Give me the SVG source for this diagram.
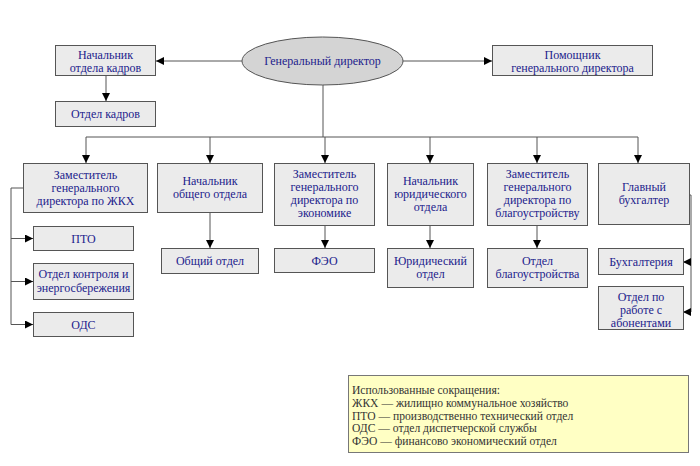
<svg xmlns="http://www.w3.org/2000/svg" width="700" height="466" viewBox="0 0 700 466">
<style>
.box{fill:#ebebeb;stroke:#555;stroke-width:1}
.ell{fill:#d4d4d4;stroke:#555;stroke-width:1}
.t{font-family:"Liberation Serif","Times New Roman",serif;font-size:12px;fill:#22228c;text-anchor:middle}
.lg{font-family:"Liberation Serif","Times New Roman",serif;font-size:11.6px;fill:#333;text-anchor:start}
.c{fill:none;stroke:#555;stroke-width:1}
.legend{fill:#ffffc4;stroke:#777;stroke-width:1}
</style>
<defs>
<marker id="ah" viewBox="0 0 10 10" refX="10" refY="5" markerWidth="9" markerHeight="8" markerUnits="userSpaceOnUse" orient="auto">
<path d="M0,0 L10,5 L0,10 z" fill="#000"/>
</marker>
</defs>
<rect width="700" height="466" fill="#fff"/>
<g id="connectors">
<path class="c" d="M242,61 H156" marker-end="url(#ah)"/>
<path class="c" d="M403,61 H492" marker-end="url(#ah)"/>
<path class="c" d="M106,76 V101" marker-end="url(#ah)"/>
<path class="c" d="M323,85 V137"/>
<path class="c" d="M86,137 H638"/>
<path class="c" d="M86,137 V163" marker-end="url(#ah)"/>
<path class="c" d="M210,137 V163" marker-end="url(#ah)"/>
<path class="c" d="M325,137 V163" marker-end="url(#ah)"/>
<path class="c" d="M430,137 V163" marker-end="url(#ah)"/>
<path class="c" d="M537,137 V163" marker-end="url(#ah)"/>
<path class="c" d="M638,137 V163" marker-end="url(#ah)"/>
<path class="c" d="M210,213 V248" marker-end="url(#ah)"/>
<path class="c" d="M325,226 V248" marker-end="url(#ah)"/>
<path class="c" d="M430,226 V248" marker-end="url(#ah)"/>
<path class="c" d="M537,226 V248" marker-end="url(#ah)"/>
<path class="c" d="M23,188 H11 V324.5"/>
<path class="c" d="M11,238.5 H33" marker-end="url(#ah)"/>
<path class="c" d="M11,281.5 H33" marker-end="url(#ah)"/>
<path class="c" d="M11,324.5 H33" marker-end="url(#ah)"/>
<path class="c" d="M689,195 H691 V312"/>
<path class="c" d="M691,262 H683" marker-end="url(#ah)"/>
<path class="c" d="M691,312 H683" marker-end="url(#ah)"/>
</g>
<g id="ceo">
<ellipse class="ell" cx="322.5" cy="61" rx="80.5" ry="24"/>
<text class="t" x="322.5" y="65">Генеральный директор</text>
</g>
<g id="hr_head">
<rect class="box" x="55.5" y="45.5" width="100" height="30"/>
<text class="t" x="105.5" y="59">Начальник</text>
<text class="t" x="105.5" y="72">отдела кадров</text>
</g>
<g id="hr_dept">
<rect class="box" x="55.5" y="101.5" width="100" height="25"/>
<text class="t" x="105.5" y="118">Отдел кадров</text>
</g>
<g id="assistant">
<rect class="box" x="492.5" y="45.5" width="160" height="30"/>
<text class="t" x="572.5" y="59">Помощник</text>
<text class="t" x="572.5" y="72">генерального директора</text>
</g>
<g id="dep_zkh">
<rect class="box" x="23.5" y="163.5" width="124" height="49"/>
<text class="t" x="85.5" y="179">Заместитель</text>
<text class="t" x="85.5" y="192">генерального</text>
<text class="t" x="85.5" y="205">директора по ЖКХ</text>
</g>
<g id="pto">
<rect class="box" x="33.5" y="226.5" width="100" height="24"/>
<text class="t" x="83.5" y="242.5">ПТО</text>
</g>
<g id="control">
<rect class="box" x="33.5" y="263.5" width="100" height="36"/>
<text class="t" x="83.5" y="278">Отдел контроля и</text>
<text class="t" x="83.5" y="292">энергосбережения</text>
</g>
<g id="ods">
<rect class="box" x="33.5" y="312.5" width="100" height="24"/>
<text class="t" x="83.5" y="328.5">ОДС</text>
</g>
<g id="general_head">
<rect class="box" x="157.5" y="163.5" width="105" height="49"/>
<text class="t" x="210" y="185">Начальник</text>
<text class="t" x="210" y="198">общего отдела</text>
</g>
<g id="general_dept">
<rect class="box" x="161.5" y="248.5" width="97" height="25"/>
<text class="t" x="210" y="265">Общий отдел</text>
</g>
<g id="dep_econ">
<rect class="box" x="274.5" y="163.5" width="100" height="62"/>
<text class="t" x="324.5" y="178">Заместитель</text>
<text class="t" x="324.5" y="191">генерального</text>
<text class="t" x="324.5" y="204">директора по</text>
<text class="t" x="324.5" y="217">экономике</text>
</g>
<g id="feo">
<rect class="box" x="274.5" y="248.5" width="100" height="24"/>
<text class="t" x="324.5" y="264.5">ФЭО</text>
</g>
<g id="legal_head">
<rect class="box" x="387.5" y="163.5" width="86" height="62"/>
<text class="t" x="430.5" y="185">Начальник</text>
<text class="t" x="430.5" y="198">юридического</text>
<text class="t" x="430.5" y="211">отдела</text>
</g>
<g id="legal_dept">
<rect class="box" x="387.5" y="248.5" width="86" height="39"/>
<text class="t" x="430.5" y="265">Юридический</text>
<text class="t" x="430.5" y="278">отдел</text>
</g>
<g id="dep_bl">
<rect class="box" x="487.5" y="163.5" width="100" height="62"/>
<text class="t" x="537.5" y="178">Заместитель</text>
<text class="t" x="537.5" y="191">генерального</text>
<text class="t" x="537.5" y="204">директора по</text>
<text class="t" x="537.5" y="217">благоустройству</text>
</g>
<g id="bl_dept">
<rect class="box" x="487.5" y="248.5" width="100" height="39"/>
<text class="t" x="537.5" y="265">Отдел</text>
<text class="t" x="537.5" y="278">благоустройства</text>
</g>
<g id="chief_acc">
<rect class="box" x="598.5" y="163.5" width="91" height="61"/>
<text class="t" x="644" y="191">Главный</text>
<text class="t" x="644" y="204">бухгалтер</text>
</g>
<g id="accounting">
<rect class="box" x="598.5" y="248.5" width="85" height="26"/>
<text class="t" x="641" y="266">Бухгалтерия</text>
</g>
<g id="subscribers">
<rect class="box" x="598.5" y="286.5" width="85" height="43"/>
<text class="t" x="641" y="301">Отдел по</text>
<text class="t" x="641" y="314">работе с</text>
<text class="t" x="641" y="327">абонентами</text>
</g>
<g id="legend">
<rect class="legend" x="348.5" y="375.5" width="340" height="77"/>
<text class="lg" x="352" y="394">Использованные сокращения:</text>
<text class="lg" x="352" y="406.8">ЖКХ — жилищно коммунальное хозяйство</text>
<text class="lg" x="352" y="419.6">ПТО — производственно технический отдел</text>
<text class="lg" x="352" y="432.4">ОДС — отдел диспетчерской службы</text>
<text class="lg" x="352" y="445.2">ФЭО — финансово экономический отдел</text>
</g>
</svg>
